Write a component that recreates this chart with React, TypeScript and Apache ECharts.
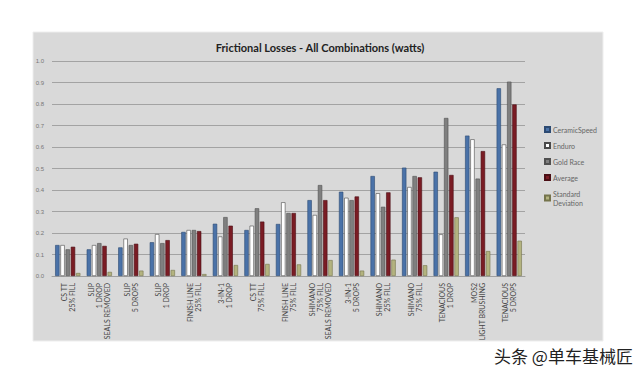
import React, { useEffect, useRef } from "react";
import * as echarts from "echarts";

const categories = [
  "CS TT\n25% FILL",
  "SLIP\n1 DROP\nSEALS REMOVED",
  "SLIP\n5 DROPS",
  "SLIP\n1 DROP",
  "FINISH LINE\n25% FILL",
  "3-IN-1\n1 DROP",
  "CS TT\n75% FILL",
  "FINISH LINE\n75% FILL",
  "SHIMANO\n75% FILL\nSEALS REMOVED",
  "3-IN-1\n5 DROPS",
  "SHIMANO\n25% FILL",
  "SHIMANO\n75% FILL",
  "TENACIOUS\n1 DROP",
  "MOS2\nLIGHT BRUSHING",
  "TENACIOUS\n5 DROPS",
];

const ceramicSpeed = [0.144, 0.124, 0.133, 0.157, 0.205, 0.243, 0.214, 0.242, 0.353, 0.392, 0.465, 0.504, 0.485, 0.653, 0.873];
const enduro = [0.144, 0.144, 0.174, 0.195, 0.214, 0.184, 0.234, 0.343, 0.284, 0.364, 0.385, 0.414, 0.194, 0.636, 0.612];
const goldRace = [0.124, 0.153, 0.144, 0.153, 0.214, 0.274, 0.315, 0.293, 0.423, 0.353, 0.322, 0.465, 0.735, 0.453, 0.904];
const average = [0.136, 0.14, 0.15, 0.167, 0.209, 0.234, 0.253, 0.293, 0.353, 0.37, 0.389, 0.459, 0.47, 0.581, 0.798];
const stdDev = [0.014, 0.019, 0.025, 0.028, 0.009, 0.051, 0.056, 0.054, 0.074, 0.025, 0.076, 0.05, 0.273, 0.116, 0.164];

const seriesNames = ["CeramicSpeed", "Enduro", "Gold Race", "Average", "Standard\nDeviation"];
const seriesData = [ceramicSpeed, enduro, goldRace, average, stdDev];
const seriesColors = ["#4a72a8", "#ffffff", "#7f7f7f", "#7a1c24", "#b3b37f"];
const borderColors = ["#2c4a72", "#4a4a4a", "#505050", "#4a0e14", "#75744c"];

export default function App() {
  const ref = useRef<HTMLDivElement>(null);

  useEffect(() => {
    if (!ref.current) return;
    const chart = echarts.init(ref.current, null, { renderer: "svg" });
    chart.setOption({
      animation: false,
      backgroundColor: "#ffffff",
      title: {
        text: "Frictional Losses - All Combinations (watts)",
        left: "center",
        top: 37,
        textStyle: { fontFamily: "Lato", fontWeight: "bold", fontSize: 11, color: "#222" },
      },
      graphic: [
        {
          type: "rect",
          z: -10,
          shape: { x: 33, y: 32, width: 570, height: 309 },
          style: { fill: "#d9d9d9", stroke: "#eeeeee", lineWidth: 1 },
        },
        {
          type: "text",
          x: 494,
          y: 355,
          style: {
            text: "头条 @单车基械匠",
            font: "17px 'Noto Sans CJK SC'",
            fill: "#222",
            textVerticalAlign: "middle",
          },
        },
      ],
      legend: {
        orient: "vertical",
        left: 544,
        top: 125,
        padding: 0,
        itemWidth: 5,
        itemHeight: 5,
        itemGap: 7,
        icon: "rect",
        data: seriesNames,
        textStyle: { fontSize: 7, color: "#666", fontFamily: "Lato", lineHeight: 9, padding: [0, 0, 0, -2] },
      },
      grid: { left: 52, right: 115, top: 61, bottom: 99 },
      xAxis: {
        type: "category",
        data: categories,
        axisTick: { show: false },
        axisLine: { show: true, lineStyle: { color: "#a0a0a0" } },
        axisLabel: {
          interval: 0,
          rotate: 90,
          fontSize: 7,
          lineHeight: 8,
          color: "#444",
          fontFamily: "Lato",
          margin: 7,
        },
      },
      yAxis: {
        type: "value",
        min: 0,
        max: 1,
        interval: 0.1,
        axisLine: { show: false },
        axisTick: { show: false },
        axisLabel: {
          fontSize: 6,
          color: "#777",
          margin: 8,
          formatter: (v: number) => v.toFixed(1),
        },
        splitLine: { lineStyle: { color: "#a3a3a3", width: 1 } },
      },
      series: seriesNames.map((name, i) => ({
        name,
        type: "bar",
        data: seriesData[i],
        barCategoryGap: "20%",
        barGap: "20%",
        itemStyle: { color: seriesColors[i], borderColor: borderColors[i], borderWidth: 0.6 },
      })),
    });
    return () => chart.dispose();
  }, []);

  return (
    <div
      ref={ref}
      style={{ position: "absolute", left: 0, top: 0, width: 640, height: 375 }}
    />
  );
}
